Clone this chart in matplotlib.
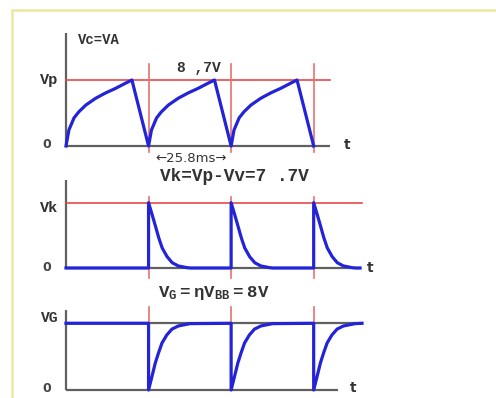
import numpy as np
import matplotlib.pyplot as plt
from matplotlib.patches import Rectangle

# UJT relaxation oscillator waveforms
T = 25.8          # period, ms
VP = 8.7          # peak voltage
VK = 7.7          # Vp - Vv
VG = 8.0          # eta * VBB
n_cycles = 3

# one charge/discharge cycle of Vc (ms, V)
charge_t = [0, 0.9, 2.5, 4.0, 6.2, 9.3, 12.4, 15.5, 18.7, 20.6, 25.8]
charge_v = [0, 2.1, 3.7, 4.5, 5.4, 6.3, 7.0, 7.6, 8.3, 8.7, 0]

# Vk pulse after each discharge
vk_t = [0, 0, 1.15, 2.2, 3.2, 4.26, 5.8, 7.4, 9.3, 12.0, 13.1]
vk_v = [0, 7.7, 6.25, 4.87, 3.54, 2.36, 1.33, 0.62, 0.24, 0.04, 0]

# VG dip after each discharge
vg_t = [0, 0, 1.05, 2.1, 3.1, 4.2, 5.7, 7.3, 9.3, 11.9, 13.0]
vg_v = [8, 0, 1.6, 3.24, 4.44, 5.64, 6.6, 7.3, 7.68, 7.88, 7.96]

W, H = 496, 398
X0, PXMS = 66, 3.2     # pixel of t=0, pixels per ms
L, R = 20, 400

BLUE = "#2323d8"
RED = "#e84848"
RED_V = "#e87070"
GRAY = "#606060"
MONO = "Liberation Mono"

fig = plt.figure(figsize=(W / 100, H / 100), dpi=100)
fig.patch.set_facecolor("white")
fig.add_artist(Rectangle((12 / W, -0.05), 1.2, 1 - 10 / H + 0.05,
                         transform=fig.transFigure, fill=False,
                         edgecolor="#eee7a0", lw=1.8))


def panel(top, bottom, base, ppu):
    ax = fig.add_axes([L / W, 1 - bottom / H, (R - L) / W, (bottom - top) / H])
    ax.set_xlim((L - X0) / PXMS, (R - X0) / PXMS)
    ax.set_ylim(-(bottom - base) / ppu, (base - top) / ppu)
    ax.axis("off")
    return ax


def vaxis(ax, top, end):
    ax.plot([0, 0], [0, top], color=GRAY, lw=1.6, solid_capstyle="butt")
    ax.plot([0, end], [0, 0], color=GRAY, lw=1.6, solid_capstyle="butt")


marks = [T * k for k in range(1, n_cycles + 1)]

# ---- Vc = VA ----
ax1 = panel(25, 170, 146, 66 / VP)
vaxis(ax1, 14.9, 82.5)
ax1.plot([0, 82.5], [VP, VP], color=RED, lw=1.2)
for m in marks:
    ax1.plot([m, m], [-0.8, 10.8], color=RED_V, lw=1.2)
t1 = np.concatenate([np.array(charge_t) + k * T for k in range(n_cycles)])
v1 = np.concatenate([charge_v for k in range(n_cycles)])
ax1.plot(t1, v1, color=BLUE, lw=2.3, solid_joinstyle="round")
ax1.text(3.7, 14.0, "Vc=VA", family=MONO, weight="bold", fontsize=10,
         ha="left", va="center", color="#333333")
ax1.text(-2.5, VP, "Vp", family=MONO, weight="bold", fontsize=11,
         ha="right", va="center", color="#333333")
ax1.text(-4.6, 0.2, "0", weight="bold", fontsize=9, ha="right",
         va="center", color="#444444")
ax1.text(34.6, 10.3, "8 ,7V", family=MONO, weight="bold", fontsize=10.5,
         ha="left", va="center", color="#333333")
ax1.text(87.8, 0.1, "t", weight="bold", fontsize=10, ha="center",
         va="center", color="#333333")
ax1.text(39.0, -1.7, "←25.8ms→", fontsize=9.5, ha="center", va="center",
         color="#333333")

# ---- Vk ----
ax2 = panel(165, 285, 268, 65.3 / VK)
vaxis(ax2, 10.4, 92.0)
ax2.plot([0, 92.5], [VK, VK], color=RED, lw=1.2)
for m in marks:
    ax2.plot([m, m], [-1.2, 8.4], color=RED_V, lw=1.2)
t2 = [0] + [t + m for m in marks for t in vk_t] + [91.9]
v2 = [0] + [v for m in marks for v in vk_v] + [0]
ax2.plot(t2, v2, color=BLUE, lw=2.3, solid_joinstyle="round")
ax2.text(29.4, 10.75, "Vk=Vp-Vv=7 .7V", family=MONO, weight="bold",
         fontsize=12.8, ha="left", va="center", color="#333333")
ax2.text(-2.5, VK - 0.6, "Vk", family=MONO, weight="bold", fontsize=11,
         ha="right", va="center", color="#333333")
ax2.text(-4.6, 0.1, "0", weight="bold", fontsize=9, ha="right",
         va="center", color="#444444")
ax2.text(95.0, 0, "t", weight="bold", fontsize=10, ha="center",
         va="center", color="#333333")

# ---- VG ----
ax3 = panel(280, 398, 390, 66.7 / VG)
vaxis(ax3, 9.6, 85.0)
ax3.plot([0, 92.5], [VG, VG], color=GRAY, lw=1.6)
for m in marks:
    ax3.plot([m, m], [0, 9.95], color=RED_V, lw=1.2)
t3 = [0] + [t + m for m in marks for t in vg_t] + [92.5]
v3 = [VG] + [v for m in marks for v in vg_v] + [VG]
ax3.plot(t3, v3, color=BLUE, lw=2.3, solid_joinstyle="round")
ax3.text(28.7, 11.6, r"$\mathregular{V_G=\eta V_{BB}=8V}$", family=MONO,
         weight="bold", fontsize=12.5, ha="left", va="center", color="#333333")
ax3.text(-2.5, 8.6, "VG", family=MONO, weight="bold", fontsize=10.5,
         ha="right", va="center", color="#333333")
ax3.text(-4.6, 0.2, "0", weight="bold", fontsize=9, ha="right",
         va="center", color="#444444")
ax3.text(89.7, 0.2, "t", weight="bold", fontsize=10, ha="center",
         va="center", color="#333333")

fig.savefig("out.png", dpi=100)
